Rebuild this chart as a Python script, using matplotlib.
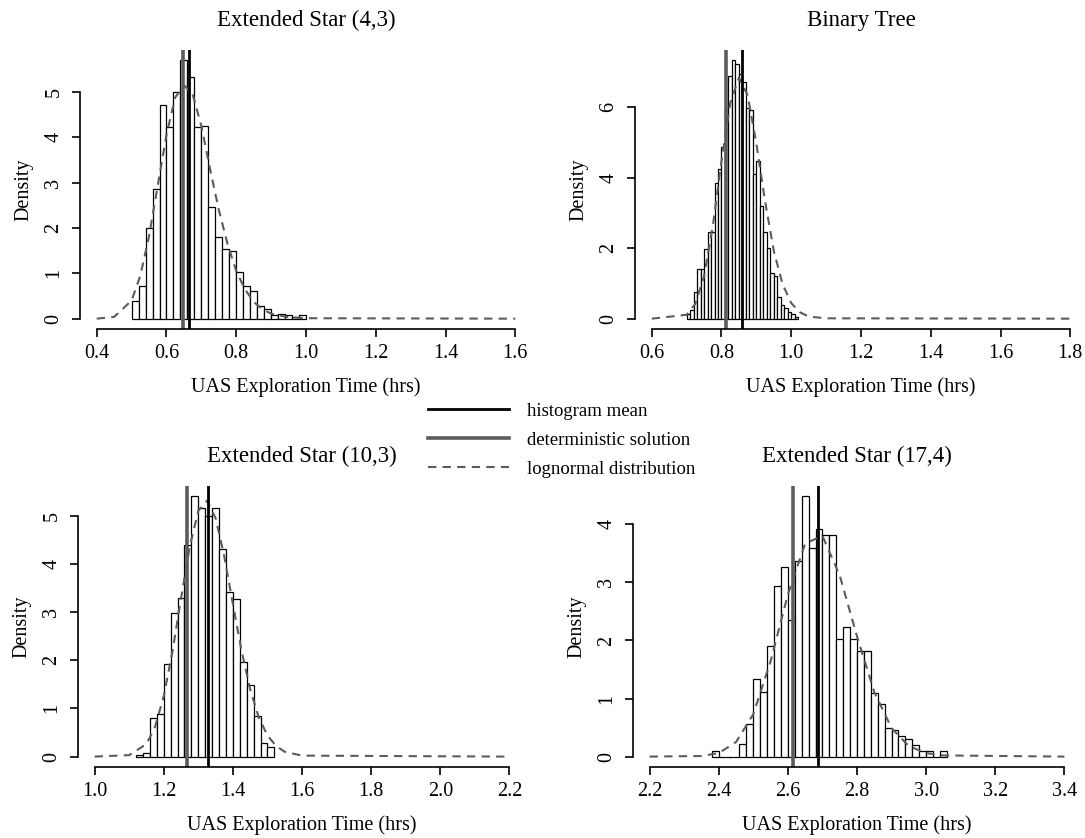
import numpy as np
import matplotlib
matplotlib.use("Agg")
import matplotlib.pyplot as plt
from matplotlib.lines import Line2D

plt.rcParams['font.family'] = ['Liberation Serif', 'DejaVu Serif']

# ---- data ----
# Extended Star (4,3)
star43_bin_start = 0.50
star43_bin_width = 0.02
star43_density = [0.40, 0.71, 2.00, 2.87, 4.71, 4.24, 5.01, 5.70, 5.33, 4.22,
                  4.26, 2.46, 1.80, 1.53, 1.50, 1.04, 0.73, 0.62, 0.27, 0.21,
                  0.07, 0.11, 0.07, 0.03, 0.07]
star43_mean = 0.665
star43_det = 0.647
star43_curve_x = [0.40, 0.45, 0.50, 0.525, 0.55, 0.575, 0.60, 0.625, 0.65, 0.675,
                  0.70, 0.725, 0.75, 0.775, 0.80, 0.825, 0.85, 0.875, 0.90, 0.95,
                  1.00, 1.60]
star43_curve_y = [0.00, 0.04, 0.40, 0.95, 1.82, 2.94, 4.06, 4.88, 5.15, 4.95,
                  4.25, 3.30, 2.40, 1.65, 1.05, 0.65, 0.37, 0.21, 0.11, 0.03,
                  0.01, 0.00]

# Binary Tree
binary_bin_start = 0.70
binary_bin_width = 0.01
binary_density = [0.12, 0.25, 0.76, 1.42, 1.42, 1.98, 2.46, 2.46, 3.84, 4.25,
                  4.86, 5.95, 6.89, 7.32, 7.22, 6.94, 6.70, 5.98, 5.92, 4.11,
                  4.47, 3.18, 2.45, 2.00, 1.30, 1.20, 0.62, 0.40, 0.30, 0.20,
                  0.12, 0.06]
binary_mean = 0.858
binary_det = 0.812
binary_curve_x = [0.60, 0.70, 0.725, 0.75, 0.775, 0.80, 0.825, 0.85, 0.875, 0.90,
                  0.925, 0.95, 0.975, 1.00, 1.025, 1.05, 1.10, 1.80]
binary_curve_y = [0.00, 0.11, 0.42, 1.20, 2.62, 4.47, 6.11, 6.83, 6.33, 4.96,
                  3.32, 1.92, 0.98, 0.44, 0.18, 0.06, 0.01, 0.00]

# Extended Star (10,3)
star103_bin_start = 1.12
star103_bin_width = 0.02
star103_density = [0.04, 0.07, 0.80, 0.89, 1.92, 2.97, 3.29, 4.40, 5.40, 5.15,
                   5.00, 5.15, 4.30, 3.42, 3.27, 1.96, 1.48, 0.85, 0.29, 0.20]
star103_mean = 1.328
star103_det = 1.266
star103_curve_x = [1.00, 1.10, 1.15, 1.175, 1.20, 1.225, 1.25, 1.275, 1.30, 1.325,
                   1.35, 1.375, 1.40, 1.425, 1.45, 1.475, 1.50, 1.525, 1.55, 1.60,
                   2.20]
star103_curve_y = [0.00, 0.03, 0.26, 0.62, 1.25, 2.17, 3.28, 4.35, 5.10, 5.31,
                   4.95, 4.16, 3.17, 2.20, 1.40, 0.81, 0.44, 0.22, 0.10, 0.02,
                   0.00]

# Extended Star (17,4)
star174_bin_start = 2.38
star174_bin_width = 0.02
star174_density = [0.10, 0.00, 0.00, 0.00, 0.21, 0.56, 1.34, 1.11, 1.90, 2.93,
                   3.26, 2.35, 3.37, 4.48, 3.60, 3.92, 3.82, 3.82, 2.02, 2.24,
                   2.02, 1.81, 1.81, 1.10, 0.90, 0.50, 0.45, 0.35, 0.30, 0.20,
                   0.10, 0.10, 0.00, 0.10]
star174_mean = 2.688
star174_det = 2.614
star174_curve_x = [2.20, 2.35, 2.40, 2.45, 2.50, 2.55, 2.60, 2.65, 2.70, 2.75,
                   2.80, 2.85, 2.90, 2.95, 3.00, 3.05, 3.40]
star174_curve_y = [0.00, 0.01, 0.06, 0.25, 0.73, 1.64, 2.79, 3.67, 3.80, 3.12,
                   2.07, 1.11, 0.49, 0.18, 0.06, 0.02, 0.00]

panels = [
    ("Extended Star (4,3)", star43_bin_start, star43_bin_width, star43_density,
     star43_mean, star43_det, star43_curve_x, star43_curve_y,
     [0.4, 0.6, 0.8, 1.0, 1.2, 1.4, 1.6], [0, 1, 2, 3, 4, 5]),
    ("Binary Tree", binary_bin_start, binary_bin_width, binary_density,
     binary_mean, binary_det, binary_curve_x, binary_curve_y,
     [0.6, 0.8, 1.0, 1.2, 1.4, 1.6, 1.8], [0, 2, 4, 6]),
    ("Extended Star (10,3)", star103_bin_start, star103_bin_width, star103_density,
     star103_mean, star103_det, star103_curve_x, star103_curve_y,
     [1.0, 1.2, 1.4, 1.6, 1.8, 2.0, 2.2], [0, 1, 2, 3, 4, 5]),
    ("Extended Star (17,4)", star174_bin_start, star174_bin_width, star174_density,
     star174_mean, star174_det, star174_curve_x, star174_curve_y,
     [2.2, 2.4, 2.6, 2.8, 3.0, 3.2, 3.4], [0, 1, 2, 3, 4]),
]

W, H = 1085, 838
# plot regions in pixels (left, top, right, bottom)
regions = [(80, 50, 532, 329), (635, 50, 1087, 329),
           (78, 486, 526, 767), (633, 486, 1081, 767)]

DET_GRAY = "#5c5c5c"

fig = plt.figure(figsize=(W / 100, H / 100), dpi=100)

for (title, b0, bw, dens, mean, det, cx, cy, xt, yt), (l, t, r, b) in zip(panels, regions):
    ax = fig.add_axes([l / W, 1 - b / H, (r - l) / W, (b - t) / H])
    dens = np.array(dens)
    edges = b0 + bw * np.arange(len(dens))
    ax.bar(edges, dens, width=bw, align='edge', facecolor='white',
           edgecolor='black', linewidth=0.9)
    ax.plot(cx, cy, color=DET_GRAY, linestyle=(0, (4, 3)), linewidth=1.5)
    ax.axvline(det, color=DET_GRAY, linewidth=2.6)
    ax.axvline(mean, color='black', linewidth=2.0)

    xr = xt[-1] - xt[0]
    ymax = dens.max()
    ax.set_xlim(xt[0] - 0.04 * xr, xt[-1] + 0.04 * xr)
    ax.set_ylim(-0.04 * ymax, 1.04 * ymax)

    for s in ['top', 'right']:
        ax.spines[s].set_visible(False)
    ax.spines['left'].set_bounds(yt[0], yt[-1])
    ax.spines['bottom'].set_bounds(xt[0], xt[-1])
    for s in ['left', 'bottom']:
        ax.spines[s].set_linewidth(1.2)
    ax.set_xticks(xt)
    ax.set_xticklabels([f"{v:.1f}" for v in xt])
    ax.set_yticks(yt)
    ax.set_yticklabels([str(v) for v in yt], rotation=90, va='center')
    ax.tick_params(direction='out', length=6, width=1.2, labelsize=14.5, pad=5)
    ax.tick_params(axis='y', pad=6)

    ax.set_title(title, fontsize=16.5, pad=17)
    ax.set_xlabel("UAS Exploration Time (hrs)", fontsize=14.5, labelpad=10)
    ax.set_ylabel("Density", fontsize=14.5, labelpad=8)
    ax.patch.set_alpha(0)

# legend in the gap between panels
handles = [Line2D([], [], color='black', linewidth=2.0),
           Line2D([], [], color=DET_GRAY, linewidth=2.6),
           Line2D([], [], color=DET_GRAY, linestyle=(0, (4, 3)), linewidth=1.5)]
labels = ["histogram mean", "deterministic solution", "lognormal distribution"]
fig.legend(handles, labels, loc='upper left', bbox_to_anchor=(411 / W, 1 - 386 / H),
           frameon=False, fontsize=13.5, handlelength=4.3, handletextpad=1.0,
           labelspacing=0.62)

fig.savefig("out.png", dpi=100)
